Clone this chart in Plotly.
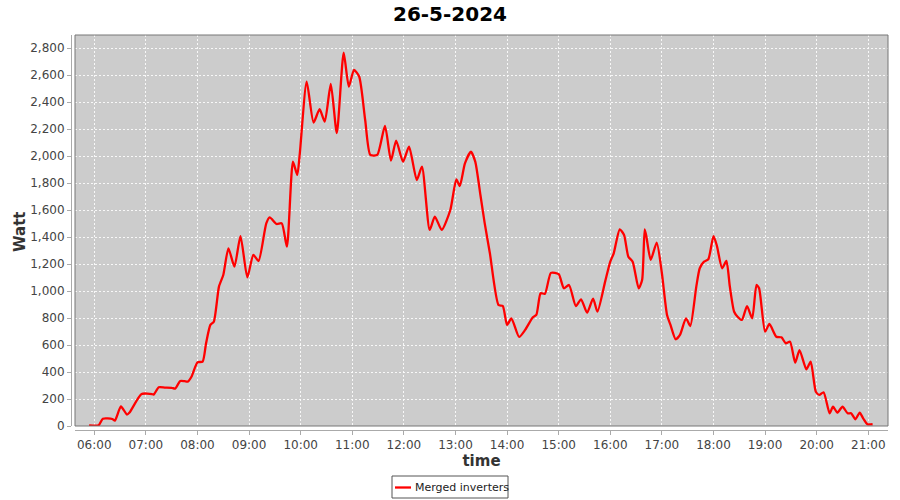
import plotly.graph_objects as go

DAY = "2024-05-26"

times = [
    "05:54", "06:05", "06:10", "06:21", "06:24", "06:31", "06:38", "06:41", "06:55", "07:07",
    "07:09", "07:15", "07:22", "07:30", "07:34", "07:40", "07:45", "07:49", "07:53", "08:00",
    "08:06", "08:10", "08:15", "08:19", "08:25", "08:30", "08:36", "08:43", "08:50", "08:58",
    "09:05", "09:11", "09:20", "09:24", "09:32", "09:38", "09:44", "09:51", "09:56", "09:59",
    "10:07", "10:15", "10:22", "10:28", "10:35", "10:42", "10:50", "10:56", "11:02", "11:08",
    "11:15", "11:21", "11:29", "11:38", "11:45", "11:51", "11:59", "12:06", "12:15", "12:21",
    "12:30", "12:36", "12:44", "12:54", "13:01", "13:05", "13:11", "13:18", "13:23", "13:29",
    "13:34", "13:40", "13:50", "13:55", "14:00", "14:05", "14:14", "14:21", "14:30", "14:34",
    "14:39", "14:44", "14:51", "15:00", "15:06", "15:12", "15:20", "15:26", "15:33", "15:40",
    "15:45", "15:54", "16:00", "16:04", "16:11", "16:16", "16:21", "16:26", "16:33", "16:37",
    "16:40", "16:42", "16:47", "16:54", "17:00", "17:06", "17:10", "17:16", "17:21", "17:28",
    "17:33", "17:40", "17:44", "17:49", "17:54", "18:00", "18:04", "18:10", "18:15", "18:19",
    "18:24", "18:28", "18:33", "18:39", "18:45", "18:50", "18:53", "19:00", "19:05", "19:13",
    "19:19", "19:24", "19:29", "19:35", "19:40", "19:48", "19:53", "19:59", "20:03", "20:08",
    "20:15", "20:19", "20:24", "20:30", "20:36", "20:40", "20:45", "20:50", "20:54", "20:59",
    "21:05",
]

watts = [
    5, 5, 54, 52, 40, 145, 85, 100, 237, 237,
    232, 287, 285, 283, 277, 333, 332, 330, 365, 472,
    477, 613, 749, 773, 1033, 1119, 1317, 1181, 1408, 1102,
    1268, 1223, 1502, 1547, 1497, 1502, 1329, 1959, 1861, 2021,
    2552, 2249, 2348, 2256, 2535, 2170, 2767, 2515, 2639, 2590,
    2268, 2009, 2009, 2224, 1967, 2115, 1959, 2071, 1823, 1922,
    1453, 1552, 1453, 1601, 1828, 1779, 1947, 2033, 1959, 1712,
    1502, 1280, 897, 889, 749, 798, 660, 712, 806, 823,
    984, 980, 1135, 1125, 1021, 1045, 889, 939, 840, 944,
    847, 1070, 1218, 1280, 1458, 1416, 1255, 1218, 1021, 1082,
    1458, 1403, 1231, 1359, 1132, 823, 749, 643, 675, 798,
    741, 1033, 1169, 1218, 1236, 1408, 1334, 1169, 1223, 1033,
    847, 810, 786, 889, 798, 1045, 1021, 699, 756, 662,
    657, 613, 625, 469, 563, 420, 477, 254, 230, 250,
    94, 143, 99, 143, 94, 94, 50, 99, 57, 13,
    13,
]

series_name = "Merged inverters"
y_title = "Watt"
x_title = "time"
chart_title = "26-5-2024"

tick_times = ["06:00", "07:00", "08:00", "09:00", "10:00", "11:00", "12:00", "13:00",
              "14:00", "15:00", "16:00", "17:00", "18:00", "19:00", "20:00", "21:00"]
y_ticks = [0, 200, 400, 600, 800, 1000, 1200, 1400, 1600, 1800, 2000, 2200, 2400, 2600, 2800]

x = [f"{DAY} {t}" for t in times]

W, H = 900, 500
ml, mr, mt, mb = 71, 12, 35, 70
pw = W - ml - mr
ph = H - mt - mb
xdom0 = 4 / pw
ydom0 = 4 / ph

font_family = "DejaVu Sans, Verdana, sans-serif"
RED = "#ff0000"


def px_x(p):
    return (p - ml) / pw


def px_y(p):
    return (H - mb - p) / ph


fig = go.Figure()
fig.add_trace(go.Scatter(
    x=x, y=watts, mode="lines", name=series_name, showlegend=False,
    line=dict(color=RED, width=2.3, shape="spline", smoothing=0.6),
))

fig.update_layout(
    width=W, height=H,
    margin=dict(l=ml, r=mr, t=mt, b=mb, autoexpand=False),
    paper_bgcolor="white",
    plot_bgcolor="#cccccc",
    font=dict(family=font_family, size=12, color="#444444"),
    title=dict(text=f"<b>{chart_title}</b>", x=0.5, xanchor="center",
               yref="container", y=1 - 14 / H, yanchor="middle",
               font=dict(size=20, color="black", family=font_family)),
    showlegend=False,
    xaxis=dict(
        type="date",
        domain=[xdom0, 1],
        anchor="free", position=0,
        range=[f"{DAY} 05:37:36", f"{DAY} 21:22:54"],
        tickvals=[f"{DAY} {t}" for t in tick_times],
        ticktext=tick_times,
        showgrid=True, gridcolor="rgba(255,255,255,0.85)", griddash="2px,2px", gridwidth=1,
        showline=True, linecolor="#aaaaaa", linewidth=1,
        ticks="outside", ticklen=4, tickcolor="#aaaaaa",
        tickfont=dict(size=12, color="#444444"),
        title=dict(text=f"<b>{x_title}</b>", font=dict(size=15, color="#333333"), standoff=3),
        zeroline=False,
    ),
    yaxis=dict(
        domain=[ydom0, 1],
        anchor="free", position=0,
        range=[0, 2898],
        tickvals=y_ticks,
        tickformat=",d",
        showgrid=True, gridcolor="rgba(255,255,255,0.85)", griddash="2px,2px", gridwidth=1,
        showline=True, linecolor="#aaaaaa", linewidth=1,
        ticks="outside", ticklen=4, tickcolor="#aaaaaa",
        tickfont=dict(size=12, color="#444444"),
        zeroline=False,
    ),
)

# y-axis title
fig.add_annotation(text=f"<b>{y_title}</b>", xref="paper", yref="paper",
                   x=px_x(20), y=px_y(232), xanchor="center", yanchor="middle",
                   textangle=-90, showarrow=False,
                   font=dict(size=15, color="#333333", family=font_family))

# plot-area border
fig.add_shape(type="rect", xref="paper", yref="paper",
              x0=xdom0, x1=1, y0=ydom0, y1=1,
              line=dict(color="#777777", width=1), fillcolor="rgba(0,0,0,0)", layer="above")

# legend box
fig.add_shape(type="rect", xref="paper", yref="paper",
              x0=px_x(392), x1=px_x(508), y0=px_y(498), y1=px_y(476),
              line=dict(color="#555555", width=1), fillcolor="white", layer="above")
fig.add_shape(type="line", xref="paper", yref="paper",
              x0=px_x(395), x1=px_x(411), y0=px_y(487.5), y1=px_y(487.5),
              line=dict(color=RED, width=2.3), layer="above")
fig.add_annotation(text=series_name, xref="paper", yref="paper",
                   x=px_x(413), y=px_y(487.5), xanchor="left", yanchor="middle",
                   showarrow=False, font=dict(size=11, color="#222222", family=font_family))

fig.write_html("out.html", config={"displayModeBar": False},
               post_script="document.body.style.margin='0';document.body.style.padding='0';")
